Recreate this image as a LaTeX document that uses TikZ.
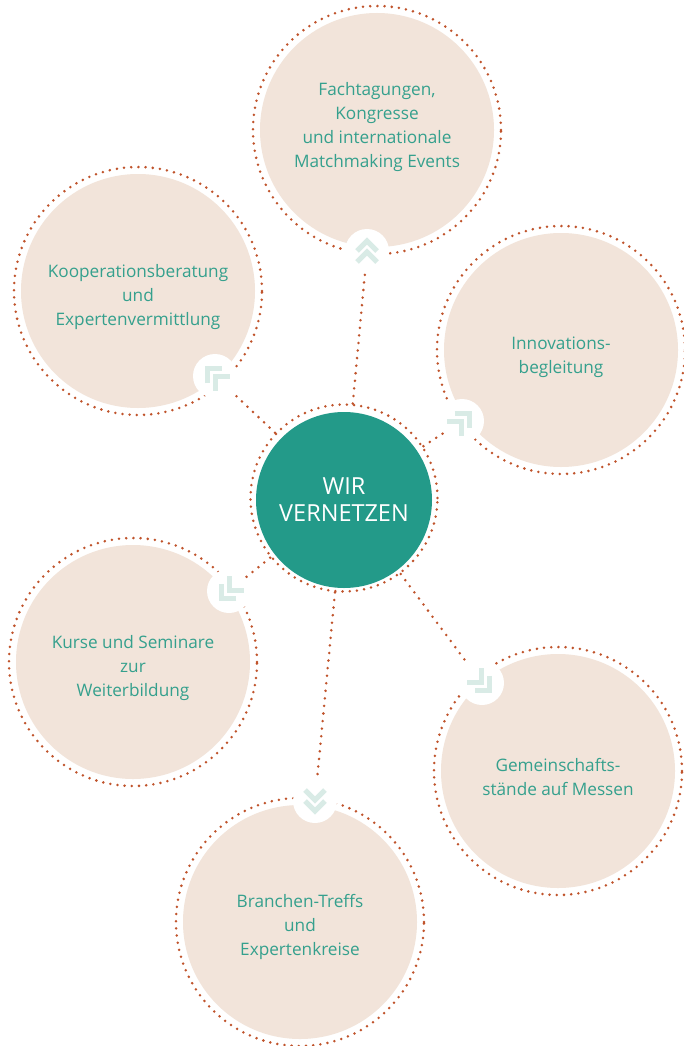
\documentclass[tikz,border=0pt]{standalone}
\usepackage{fontspec}
\setmainfont{Open Sans}
\definecolor{hubteal}{HTML}{239A89}
\definecolor{tealtext}{HTML}{35A08D}
\definecolor{beige}{HTML}{F2E4DA}
\definecolor{rust}{HTML}{C0532B}
\definecolor{chevc}{HTML}{D9EBE6}
\tikzset{
  hub/.style={circle, fill=hubteal, minimum size=176pt, inner sep=0pt, text=white,
    font=\fontsize{23.5}{27}\selectfont, align=center},
  hubring/.style={circle, draw=rust, line width=2.8pt, dash pattern=on 0pt off 7.2pt,
    line cap=round, minimum size=187pt, inner sep=0pt},
  bubble/.style={circle, fill=beige, minimum size=234pt, inner sep=0pt},
  blabel/.style={text=tealtext, font=\fontsize{17.2}{23.8}\selectfont, align=center, inner sep=0pt},
  ringdots/.style={circle, draw=rust, line width=2.8pt, dash pattern=on 0pt off 7.2pt,
    line cap=round, minimum size=248pt, inner sep=0pt},
  badge/.style={circle, fill=white, minimum size=44pt, inner sep=0pt},
  conn/.style={draw=rust, line width=2.8pt, dash pattern=on 0pt off 7.6pt, line cap=round},
  chevline/.style={draw=chevc, line width=5pt, line cap=butt, line join=miter},
  chevrons/.pic={
    \draw[chevline] (0,-10) -- (10,0) -- (0,10);
    \draw[chevline] (-11,-10) -- (-1,0) -- (-11,10);
  }
}
\begin{document}
\begin{tikzpicture}[x=1pt,y=-1pt]
\useasboundingbox[fill=white] (0,0) rectangle (684,1046);
% outer bubbles
\node[ringdots] (r1) at (377,130) {};
\node[bubble] (b1) at (377,130) {};
\node[blabel] (t1) at (377,127) {Fachtagungen,\\Kongresse\\und internationale\\Matchmaking Events};
\node[ringdots] (r2) at (138,291) {};
\node[bubble] (b2) at (138,291) {};
\node[blabel] (t2) at (138,297) {Kooperationsberatung\\und\\Expertenvermittlung};
\node[ringdots] (r3) at (561,350) {};
\node[bubble] (b3) at (561,350) {};
\node[blabel] (t3) at (561,357) {Innovations-\\begleitung};
\node[ringdots] (r4) at (133,662) {};
\node[bubble] (b4) at (133,662) {};
\node[blabel] (t4) at (133,668) {Kurse und Seminare\\zur\\Weiterbildung};
\node[ringdots] (r5) at (558,771) {};
\node[bubble] (b5) at (558,771) {};
\node[blabel] (t5) at (558,777) {Gemeinschafts-\\stände auf Messen};
\node[ringdots] (r6) at (300,922) {};
\node[bubble] (b6) at (300,922) {};
\node[blabel] (t6) at (300,927) {Branchen-Treffs\\und\\Expertenkreise};
% hub
\node[hubring] (hr) at (344,498) {};
\node[hub] (hub) at (344,500) {WIR\\VERNETZEN};
% badges
\node[badge] (k1) at (367,251) {};
\node[badge] (k2) at (215,376) {};
\node[badge] (k3) at (462,421) {};
\node[badge] (k4) at (229,591) {};
\node[badge] (k5) at (482,683) {};
\node[badge] (k6) at (315,801) {};
\pic[rotate=90] at (k1) {chevrons};
\pic[rotate=135] at (k2) {chevrons};
\pic[rotate=45] at (k3) {chevrons};
\pic[rotate=225] at (k4) {chevrons};
\pic[rotate=-45] at (k5) {chevrons};
\pic[rotate=-90] at (k6) {chevrons};
% connectors
\draw[conn] (hr) -- (k1);
\draw[conn] (hr) -- (k2);
\draw[conn] (hr) -- (k3);
\draw[conn] (hr) -- (k4);
\draw[conn] (hr) -- (k5);
\draw[conn] (hr) -- (k6);
\end{tikzpicture}
\end{document}
